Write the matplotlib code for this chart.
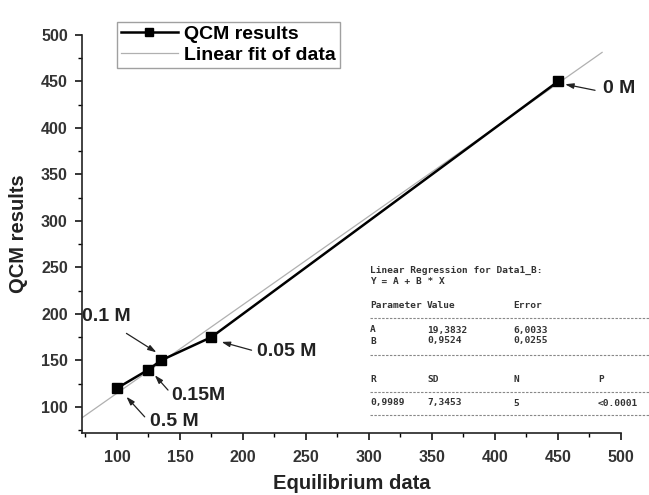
import matplotlib
matplotlib.use("Agg")
import matplotlib.pyplot as plt
import numpy as np
from matplotlib.lines import Line2D
from matplotlib.ticker import MultipleLocator

# Data
equilibrium = [100, 125, 135, 175, 450]
qcm = [120, 140, 150, 175, 450]
conc_labels = ["0.5 M", "0.15M", "0.1 M", "0.05 M", "0 M"]
fit_A = 19.3832
fit_B = 0.9524
fit_x = [72, 485]

# table texts
table_title = ["Linear Regression for Data1_B:", "Y = A + B * X"]
table_head1 = ["Parameter", "Value", "Error"]
table_rows1 = [["A", "19,3832", "6,0033"], ["B", "0,9524", "0,0255"]]
table_head2 = ["R", "SD", "N", "P"]
table_rows2 = [["0,9989", "7,3453", "5", "<0.0001"]]

W, H = 649, 495
plt.rcParams['font.family'] = ['Liberation Sans', 'DejaVu Sans']
fig = plt.figure(figsize=(W / 100, H / 100), dpi=100)
ax = fig.add_axes([81.7 / W, 1 - 433.3 / H, (621 - 81.7) / W, (433.3 - 35) / H])

fx = np.array(fit_x, dtype=float)
ax.plot(fx, fit_A + fit_B * fx, color="#b0b0b0", lw=0.9, label="Linear fit of data", zorder=2)
ax.plot(equilibrium, qcm, color="black", lw=1.8, marker="s", ms=7,
        markerfacecolor="black", label="QCM results", zorder=3)

ax.set_xlim(72, 500)
ax.set_ylim(71.5, 500)
for s in ["top", "right"]:
    ax.spines[s].set_visible(False)
for s in ["left", "bottom"]:
    ax.spines[s].set_linewidth(1.2)
    ax.spines[s].set_color("#222222")
ax.xaxis.set_minor_locator(MultipleLocator(25))
ax.yaxis.set_minor_locator(MultipleLocator(25))
ax.set_xticks(np.arange(100, 501, 50))
ax.set_yticks(np.arange(100, 501, 50))
ax.tick_params(which="major", direction="out", length=5, width=1.1, labelsize=11.5)
ax.tick_params(axis="x", which="major", pad=7)
ax.tick_params(axis="y", which="major", pad=5)
ax.tick_params(which="minor", direction="out", length=3, width=1.0)
for lab in ax.get_xticklabels() + ax.get_yticklabels():
    lab.set_fontweight("bold")
    lab.set_color("#333333")

ax.set_xlabel("Equilibrium data", fontsize=14.5, fontweight="bold", labelpad=6.5, color="#222222")
ax.set_ylabel("QCM results", fontsize=14.5, fontweight="bold", labelpad=9, color="#222222")

handles, labels = ax.get_legend_handles_labels()
leg = ax.legend(handles[::-1], labels[::-1], loc="upper left", bbox_to_anchor=(0.048, 1.058),
                prop={"weight": "bold", "size": 14}, frameon=True, fancybox=False,
                edgecolor="#888888", handlelength=2.9, borderpad=0.2, labelspacing=0.15,
                handletextpad=0.35, markerscale=0.8)
leg.get_frame().set_linewidth(1.0)

# annotations
ann = [
    ("0 M", (486, 442), (479.4, 440.5), (455.6, 447)),
    ("0.05 M", (210.8, 159.2), (206.8, 160.9), (183, 169.8)),
    ("0.1 M", (72.5, 196.9), (107.5, 179), (131.3, 158.6)),
    ("0.15M", (143.2, 112.6), (140.5, 118), (130, 134)),
    ("0.5 M", (126, 83.9), (122, 89.2), (107.5, 110.8)),
]
for text, tpos, tail, head in ann:
    ax.text(tpos[0], tpos[1], text, fontsize=14, fontweight="bold", va="center", ha="left",
            color="#222222", zorder=5)
    ax.annotate("", xy=head, xytext=tail,
                arrowprops=dict(arrowstyle="-|>,head_length=0.5,head_width=0.16",
                                color="#222222", lw=0.9, shrinkA=0, shrinkB=0))

# regression table
mono = dict(family="DejaVu Sans Mono", fontsize=6.8, fontweight="bold", color="#333333",
            va="center", ha="left")

def ftext(px, py, s):
    fig.text(px / W, 1 - py / H, s, **mono)

def dash(py):
    fig.add_artist(Line2D([370 / W, 1.0], [1 - py / H] * 2, transform=fig.transFigure,
                          color="#888888", lw=0.8, ls=(0, (2.2, 1.3))))

ftext(370, 270, table_title[0])
ftext(370, 281, table_title[1])
cols1 = [370, 427, 513]
for c, s in zip(cols1, table_head1):
    ftext(c, 305, s)
dash(318)
for r, py in zip(table_rows1, [330, 341]):
    for c, s in zip(cols1, r):
        ftext(c, py, s)
dash(355)
cols2 = [370, 427, 513, 598]
for c, s in zip(cols2, table_head2):
    ftext(c, 380, s)
dash(391.5)
for r in table_rows2:
    for c, s in zip(cols2, r):
        ftext(c, 403, s)
dash(415)

fig.savefig("out.png", dpi=100)
